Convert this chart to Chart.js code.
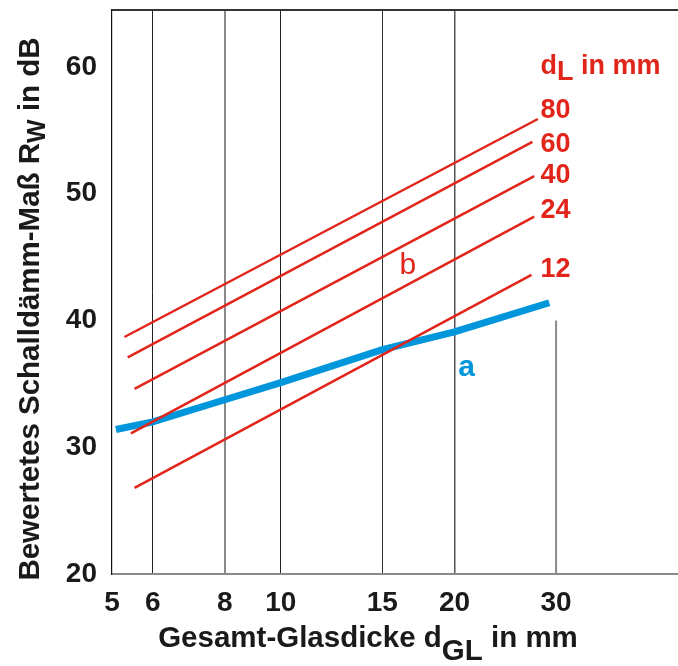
<!DOCTYPE html>
<html>
<head>
<meta charset="utf-8">
<script src="https://cdn.jsdelivr.net/npm/chart.js@4/dist/chart.umd.min.js"></script>
<style>
  html, body { margin: 0; padding: 0; background: #fff; }
  #wrap { width: 678px; height: 666px; }
</style>
</head>
<body>
<div id="wrap"><canvas id="chart"></canvas></div>
<script>
// glass thickness (mm, log axis) vs. Rw (dB)
const xTickValues = [5.1, 6, 8, 10, 15, 20, 30];
const xTickLabels = ['5', '6', '8', '10', '15', '20', '30'];
const yTickValues = [20, 30, 40, 50, 60];

// b: insulating glass, one line per gap width d_L
const gapWidths = ['80', '60', '40', '24', '12'];
const gapStartX = [5.36, 5.43, 5.58, 5.50, 5.58];
const gapStartY = [38.7, 37.1, 34.6, 31.1, 26.8];
const gapEndX = [27.9, 27.3, 27.5, 27.5, 27.2];
const gapEndY = [55.9, 54.1, 51.4, 48.2, 43.6];
const gapLabelY = [56.6, 53.9, 51.4, 48.7, 44.0];

// a: single glazing
const singleX = [5.18, 6, 8, 10, 15, 20, 29.2];
const singleY = [31.4, 32.0, 33.75, 35.1, 37.7, 39.1, 41.4];

// short grey line at 30 mm
const refX = [30, 30];
const refY = [20, 40.0];

const RED = '#e1251b';
const BLUE = '#0096db';
const FONT = '"Liberation Sans", Arial, sans-serif';

const datasets = gapWidths.map((w, i) => ({
  label: w,
  data: [{ x: gapStartX[i], y: gapStartY[i] }, { x: gapEndX[i], y: gapEndY[i] }],
  borderColor: RED,
  borderWidth: 2.5,
  pointRadius: 0,
  fill: false
}));
datasets.push({
  label: 'a',
  data: singleX.map((x, i) => ({ x: x, y: singleY[i] })),
  borderColor: BLUE,
  borderWidth: 7,
  pointRadius: 0,
  borderCapStyle: 'butt',
  fill: false
});
datasets.push({
  label: 'ref',
  data: refX.map((x, i) => ({ x: x, y: refY[i] })),
  borderColor: '#8a8a8a',
  borderWidth: 2,
  pointRadius: 0,
  fill: false
});

// draws text made of parts, some of them lowered (subscripts)
function drawParts(ctx, parts, x, y) {
  let cx = x;
  parts.forEach(p => {
    ctx.font = p.font;
    ctx.fillText(p.t, cx, y + (p.dy || 0));
    cx += ctx.measureText(p.t).width;
  });
}
function partsWidth(ctx, parts) {
  let w = 0;
  parts.forEach(p => { ctx.font = p.font; w += ctx.measureText(p.t).width; });
  return w;
}

const annotations = {
  id: 'annotations',
  afterDatasetsDraw(chart) {
    const { ctx, scales: { x, y } } = chart;
    ctx.save();
    ctx.textBaseline = 'middle';
    ctx.textAlign = 'left';

    // frame top line
    ctx.strokeStyle = '#333';
    ctx.lineWidth = 2;
    ctx.beginPath();
    ctx.moveTo(chart.chartArea.left, chart.chartArea.top);
    ctx.lineTo(chart.chartArea.right, chart.chartArea.top);
    ctx.stroke();

    // gap width labels
    ctx.fillStyle = RED;
    ctx.font = 'bold 27px ' + FONT;
    const lx = x.getPixelForValue(28.2);
    gapWidths.forEach((w, i) => {
      ctx.fillText(w, lx, y.getPixelForValue(gapLabelY[i]));
    });
    drawParts(ctx, [
      { t: 'd', font: 'bold 27px ' + FONT },
      { t: 'L', font: 'bold 27px ' + FONT, dy: 6 },
      { t: ' in mm', font: 'bold 27px ' + FONT }
    ], lx, y.getPixelForValue(60));

    // curve letters
    ctx.textAlign = 'center';
    ctx.font = '30px ' + FONT;
    ctx.fillText('b', x.getPixelForValue(16.6), y.getPixelForValue(44.3));
    ctx.fillStyle = BLUE;
    ctx.font = 'bold 30px ' + FONT;
    ctx.fillText('a', x.getPixelForValue(21.0), y.getPixelForValue(36.3));

    // axis titles
    ctx.fillStyle = '#1a1a1a';
    ctx.textAlign = 'left';
    ctx.textBaseline = 'alphabetic';
    const xParts = [
      { t: 'Gesamt-Glasdicke d', font: 'bold 29.5px ' + FONT },
      { t: 'GL', font: 'bold 29.5px ' + FONT, dy: 13 },
      { t: ' in mm', font: 'bold 29.5px ' + FONT }
    ];
    const xw = partsWidth(ctx, xParts);
    drawParts(ctx, xParts, 368 - xw / 2, 647);

    const yParts = [
      { t: 'Bewertetes Schalldämm-Maß R', font: 'bold 29.5px ' + FONT },
      { t: 'W', font: 'bold 25px ' + FONT, dy: 6 },
      { t: ' in dB', font: 'bold 29.5px ' + FONT }
    ];
    const yw = partsWidth(ctx, yParts);
    ctx.translate(39, 309);
    ctx.rotate(-Math.PI / 2);
    drawParts(ctx, yParts, -yw / 2, 0);
    ctx.restore();
  }
};

const xGridColors = ['rgba(0,0,0,0)', '#222', '#8a8a8a', '#222', '#333', '#555', 'rgba(0,0,0,0)'];
const xGridWidths = [1, 1, 2, 1, 1, 1.5, 1];

new Chart(document.getElementById('chart'), {
  type: 'line',
  data: { datasets: datasets },
  options: {
    responsive: true,
    maintainAspectRatio: false,
    animation: false,
    layout: { padding: { left: 0, right: 0, top: 10, bottom: 0 } },
    plugins: {
      legend: { display: false },
      tooltip: { enabled: false }
    },
    scales: {
      x: {
        type: 'logarithmic',
        min: 5.1,
        max: 48.8,
        afterBuildTicks: scale => { scale.ticks = xTickValues.map(v => ({ value: v })); },
        afterFit: scale => {
          scale.height = 92;
          scale.paddingLeft = 0;
          scale.paddingRight = 0;
        },
        ticks: {
          autoSkip: false,
          maxRotation: 0,
          padding: 12,
          color: '#1a1a1a',
          font: { family: FONT, size: 28, weight: 'bold' },
          callback: (v, i) => xTickLabels[i]
        },
        grid: {
          drawTicks: false,
          color: ctx => xGridColors[ctx.index] || 'rgba(0,0,0,0)',
          lineWidth: ctx => xGridWidths[ctx.index] || 1
        },
        border: { display: true, color: '#8a8a8a', width: 2 }
      },
      y: {
        type: 'linear',
        min: 20,
        max: 64.5,
        afterBuildTicks: scale => { scale.ticks = yTickValues.map(v => ({ value: v })); },
        afterFit: scale => {
          scale.width = 112;
          scale.paddingTop = 0;
          scale.paddingBottom = 0;
        },
        ticks: {
          padding: 15,
          color: '#1a1a1a',
          font: { family: FONT, size: 28, weight: 'bold' }
        },
        grid: { drawTicks: false, color: 'rgba(0,0,0,0)' },
        border: { display: true, color: '#111', width: 1.2 }
      }
    }
  },
  plugins: [annotations]
});
</script>
</body>
</html>
